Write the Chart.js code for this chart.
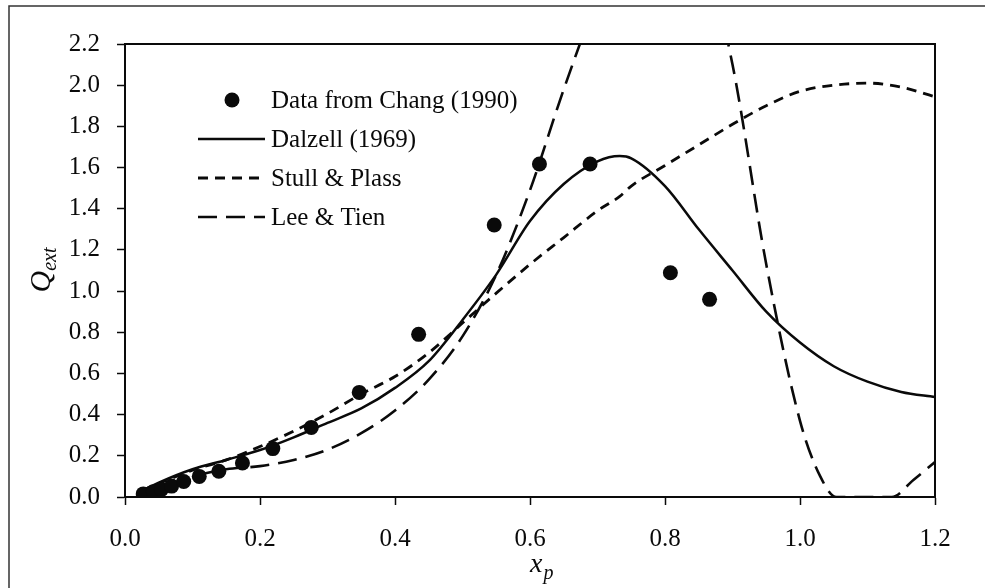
<!DOCTYPE html>
<html>
<head>
<meta charset="utf-8">
<script src="https://cdn.jsdelivr.net/npm/chart.js@4.4.0/dist/chart.umd.min.js"></script>
<style>
  html, body { margin: 0; padding: 0; background: #fff; }
</style>
</head>
<body>
<canvas id="qextChart" width="985" height="588"></canvas>
<script>
// measured extinction efficiency (Chang 1990)
const changX = [0.027, 0.042, 0.054, 0.069, 0.087, 0.110, 0.139, 0.174, 0.219, 0.276, 0.347, 0.435, 0.547, 0.614, 0.689, 0.808, 0.866];
const changY = [0.015, 0.026, 0.037, 0.053, 0.075, 0.100, 0.125, 0.165, 0.235, 0.338, 0.508, 0.790, 1.321, 1.617, 1.617, 1.089, 0.960];

// model curves
const modelX = [0.025, 0.05, 0.1, 0.15, 0.2, 0.25, 0.3, 0.35, 0.4, 0.45, 0.5, 0.55, 0.6, 0.65, 0.7, 0.733, 0.75, 0.8, 0.85, 0.9, 0.95, 1.0, 1.05, 1.1, 1.15, 1.2];
const dalzell = [0.03, 0.07, 0.135, 0.18, 0.228, 0.29, 0.36, 0.43, 0.53, 0.66, 0.86, 1.08, 1.34, 1.52, 1.63, 1.656, 1.645, 1.51, 1.30, 1.10, 0.90, 0.75, 0.635, 0.56, 0.51, 0.485];
const stullPlass = [0.03, 0.065, 0.13, 0.18, 0.245, 0.32, 0.405, 0.50, 0.585, 0.70, 0.845, 0.99, 1.13, 1.26, 1.39, 1.46, 1.51, 1.61, 1.71, 1.81, 1.90, 1.97, 2.0, 2.01, 1.99, 1.944];

const leeX = [0.025, 0.05, 0.1, 0.15, 0.2, 0.25, 0.3, 0.35, 0.4, 0.45, 0.5, 0.55, 0.6, 0.65, 0.7, 0.75, 0.8, 0.85, 0.9, 0.95, 1.0, 1.03, 1.054, 1.1, 1.136, 1.168, 1.2];
const leeTien = [0.02, 0.045, 0.10, 0.135, 0.15, 0.18, 0.23, 0.31, 0.42, 0.57, 0.78, 1.08, 1.49, 1.98, 2.42, 2.75, 2.9, 2.75, 2.1, 1.13, 0.37, 0.10, 0, 0, 0, 0.083, 0.17];

const xTicks = [0, 0.2, 0.4, 0.6, 0.8, 1.0, 1.2];
const yTicks = [0, 0.2, 0.4, 0.6, 0.8, 1.0, 1.2, 1.4, 1.6, 1.8, 2.0, 2.2];

const legendLabels = ["Data from Chang (1990)", "Dalzell (1969)", "Stull & Plass", "Lee & Tien"];

const ink = "#0a0a0a";
const serif = "'Liberation Serif', 'Times New Roman', serif";

function pairs(xs, ys) {
    return xs.map((x, i) => ({ x: x, y: ys[i] }));
}

// page frame, plot box, legend and the two axis titles
const decorations = {
    id: "decorations",
    beforeDraw(chart) {
        const ctx = chart.ctx;
        ctx.save();
        ctx.fillStyle = "#fff";
        ctx.fillRect(0, 0, chart.width, chart.height);
        ctx.strokeStyle = "#333";
        ctx.lineWidth = 1.5;
        ctx.beginPath();
        ctx.moveTo(9, chart.height);
        ctx.lineTo(9, 6);
        ctx.lineTo(chart.width, 6);
        ctx.stroke();
        ctx.restore();
    },
    afterDatasetsDraw(chart) {
        const ctx = chart.ctx;
        const a = chart.chartArea;
        ctx.save();

        // box around the plot
        ctx.strokeStyle = ink;
        ctx.lineWidth = 2;
        ctx.strokeRect(a.left, a.top, a.right - a.left, a.bottom - a.top);

        // legend
        const rowY = [100, 139, 178, 217];
        ctx.font = "25px " + serif;
        ctx.textBaseline = "middle";
        ctx.fillStyle = ink;
        chart.data.datasets.forEach((ds, i) => {
            const y = rowY[i];
            if (ds.showLine === false) {
                ctx.beginPath();
                ctx.arc(232, y, ds.pointRadius, 0, Math.PI * 2);
                ctx.fill();
            } else {
                ctx.strokeStyle = ds.borderColor;
                ctx.lineWidth = ds.borderWidth;
                ctx.setLineDash(ds.borderDash || []);
                ctx.beginPath();
                ctx.moveTo(198, y);
                ctx.lineTo(265, y);
                ctx.stroke();
                ctx.setLineDash([]);
            }
            ctx.fillText(legendLabels[i], 271, y + 1);
        });

        // y title: Q_ext
        ctx.save();
        ctx.translate(50, 270);
        ctx.rotate(-Math.PI / 2);
        ctx.textBaseline = "alphabetic";
        ctx.font = "italic 30px " + serif;
        const qW = ctx.measureText("Q").width;
        ctx.font = "italic 20px " + serif;
        const eW = ctx.measureText("ext").width;
        const start = -(qW + eW) / 2;
        ctx.font = "italic 30px " + serif;
        ctx.fillText("Q", start, 0);
        ctx.font = "italic 20px " + serif;
        ctx.fillText("ext", start + qW, 6);
        ctx.restore();

        // x title: x_p
        ctx.textBaseline = "alphabetic";
        ctx.font = "italic 28px " + serif;
        const xW = ctx.measureText("x").width;
        ctx.fillText("x", 530, 572);
        ctx.font = "italic 20px " + serif;
        ctx.fillText("p", 530 + xW + 1, 579);

        ctx.restore();
    }
};

const chart = new Chart(document.getElementById("qextChart"), {
    type: "line",
    data: {
        datasets: [
            {
                data: pairs(changX, changY),
                showLine: false,
                pointRadius: 7.5,
                pointBackgroundColor: ink,
                pointBorderWidth: 0,
                order: 0,
            },
            {
                data: pairs(modelX, dalzell),
                borderColor: ink,
                borderWidth: 2.5,
                pointRadius: 0,
                cubicInterpolationMode: "monotone",
                order: 1,
            },
            {
                data: pairs(modelX, stullPlass),
                borderColor: ink,
                borderWidth: 2.8,
                borderDash: [10, 7],
                pointRadius: 0,
                cubicInterpolationMode: "monotone",
                order: 2,
            },
            {
                data: pairs(leeX, leeTien),
                borderColor: ink,
                borderWidth: 2.6,
                borderDash: [19, 9],
                pointRadius: 0,
                cubicInterpolationMode: "monotone",
                order: 3,
            },
        ],
    },
    options: {
        responsive: false,
        animation: false,
        clip: 0,
        layout: { padding: { left: 0, top: 44, right: 50, bottom: 0 } },
        plugins: {
            legend: { display: false },
            tooltip: { enabled: false },
        },
        scales: {
            x: {
                type: "linear",
                min: 0,
                max: 1.2,
                afterBuildTicks: (s) => { s.ticks = xTicks.map((v) => ({ value: v })); },
                afterFit: (s) => { s.height = 91; },
                ticks: {
                    callback: (v) => v.toFixed(1),
                    color: ink,
                    font: { family: serif, size: 25 },
                    padding: 19,
                    maxRotation: 0,
                },
                grid: { drawOnChartArea: false, tickLength: 8, tickColor: ink, tickWidth: 1.5 },
                border: { color: ink, width: 2 },
            },
            y: {
                type: "linear",
                min: 0,
                max: 2.2,
                afterBuildTicks: (s) => { s.ticks = yTicks.map((v) => ({ value: v })); },
                afterFit: (s) => { s.width = 125; },
                ticks: {
                    callback: (v) => v.toFixed(1),
                    color: ink,
                    font: { family: serif, size: 25 },
                    padding: 17,
                },
                grid: { drawOnChartArea: false, tickLength: 8, tickColor: ink, tickWidth: 1.5 },
                border: { color: ink, width: 2 },
            },
        },
    },
    plugins: [decorations],
});
</script>
</body>
</html>
